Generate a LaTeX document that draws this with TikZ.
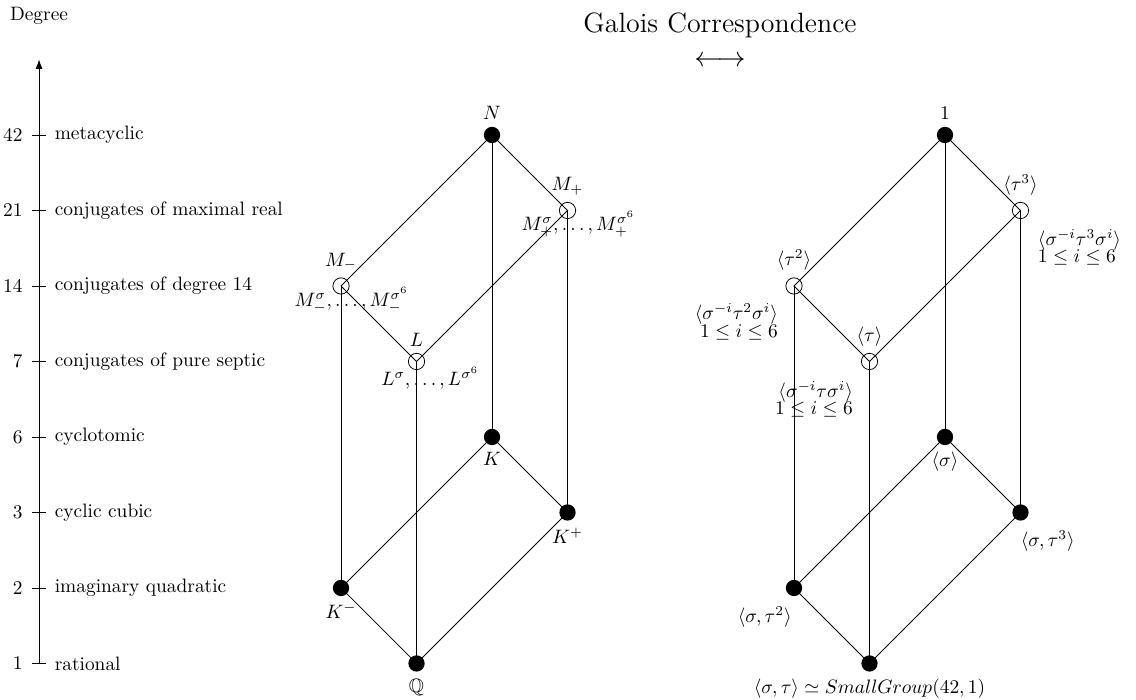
\documentclass[tikz,border=0pt]{standalone}
\usepackage{amssymb}
\usetikzlibrary{arrows.meta}

\begin{document}
\begin{tikzpicture}[x=1.368cm, y=1.368cm,
    fullpt/.style={circle, fill=black, inner sep=0pt, minimum size=8.4pt},
    openpt/.style={circle, draw=black, inner sep=0pt, minimum size=8.4pt},
    note/.style={inner sep=0pt}]
  \useasboundingbox (-0.517,-0.483) rectangle (14.53,8.788);

  % ---- the degree axis, one tick per level of the lattice ----
  \draw[-{Latex}] (0,0) -- (0,8);
  \node (deglbl) at (0,8.58) {Degree};
  \foreach \lev/\dg/\what in {0/1/rational, 1/2/imaginary quadratic,
      2/3/cyclic cubic, 3/6/cyclotomic, 4/7/conjugates of pure septic,
      5/14/conjugates of degree 14, 6/21/conjugates of maximal real,
      7/42/metacyclic}
    \draw ([xshift=-3.4pt]0,\lev) node[left, xshift=-1.6pt] {$\dg$}
       -- ([xshift=3.4pt]0,\lev) node[right, xshift=1.2pt] {\what};

  % ---- heading over both lattices ----
  \node[align=center, font=\Large, anchor=north] (title) at (9.02,8.715)
       {Galois Correspondence\\$\longleftrightarrow$};

  % ---- subfields of N, filled = normal, open = with conjugates ----
  \node[fullpt, label=below:$\mathbb{Q}$] (Q)  at (5,0) {};
  \node[fullpt, label=below:$K^-$]        (Km) at (4,1) {};
  \node[fullpt, label=below:$K^+$]        (Kp) at (7,2) {};
  \node[fullpt, label=below:$K$]          (K)  at (6,3) {};
  \node[openpt, label=above:$L$]          (L)  at (5,4) {};
  \node[openpt, label=above:$M_-$]        (Mm) at (4,5) {};
  \node[openpt, label=above:$M_+$]        (Mp) at (7,6) {};
  \node[fullpt, label=above:$N$]          (N)  at (6,7) {};

  \node[note, anchor=base] (Lc)  at ([shift={(7.1pt,-12.6pt)}]L.center)
       {$L^{\sigma},\ldots,L^{\sigma^6}$};
  \node[note, anchor=base] (Mmc) at ([shift={(5.5pt,-10.6pt)}]Mm.center)
       {$M_-^{\sigma},\ldots,M_-^{\sigma^6}$};
  \node[note, anchor=base] (Mpc) at ([shift={(5.6pt,-10.3pt)}]Mp.center)
       {$M_+^{\sigma},\ldots,M_+^{\sigma^6}$};

  \draw (N.center) -- (Mm.center) -- (L.center) -- (Mp.center) -- cycle;
  \draw (K.center) -- (Km.center) -- (Q.center) -- (Kp.center) -- cycle;
  \draw (N.center) -- (K.center);
  \draw (Mm.center) -- (Km.center);
  \draw (L.center) -- (Q.center);
  \draw (Mp.center) -- (Kp.center);

  % ---- the matching subgroups of Gal(N/Q) ----
  \node[fullpt, label={below:$\langle\sigma,\tau\rangle\simeq SmallGroup(42,1)$}] (G) at (11,0) {};
  \node[fullpt]                                     (S2)  at (10,1) {};
  \node[fullpt]                                     (S3)  at (13,2) {};
  \node[fullpt, label=below:$\langle\sigma\rangle$] (Sg)  at (12,3) {};
  \node[openpt, label=above:$\langle\tau\rangle$]   (T1)  at (11,4) {};
  \node[openpt, label=above:$\langle\tau^2\rangle$] (T2)  at (10,5) {};
  \node[openpt, label=above:$\langle\tau^3\rangle$] (T3)  at (13,6) {};
  \node[fullpt, label=above:$1$]                    (One) at (12,7) {};

  \node[note, anchor=north east] (S2l) at ([shift={(-1pt,-9.4pt)}]S2.center)
       {$\langle\sigma,\tau^2\rangle$};
  \node[note, anchor=north west] (S3l) at ([shift={(0pt,-9.2pt)}]S3.center)
       {$\langle\sigma,\tau^3\rangle$};
  \node[note, anchor=north east, align=right] (T1c) at ([shift={(-8.4pt,-10pt)}]T1.center)
       {$\langle\sigma^{-i}\tau\sigma^i\rangle$\\[-3pt]$1\le i\le 6$};
  \node[note, anchor=north east, align=right] (T2c) at ([shift={(-8.1pt,-8.9pt)}]T2.center)
       {$\langle\sigma^{-i}\tau^2\sigma^i\rangle$\\[-3pt]$1\le i\le 6$};
  \node[note, anchor=north west, align=left] (T3c) at ([shift={(8.8pt,-9.4pt)}]T3.center)
       {$\langle\sigma^{-i}\tau^3\sigma^i\rangle$\\[-3pt]$1\le i\le 6$};

  \draw (One.center) -- (T2.center) -- (T1.center) -- (T3.center) -- cycle;
  \draw (Sg.center) -- (S2.center) -- (G.center) -- (S3.center) -- cycle;
  \draw (One.center) -- (Sg.center);
  \draw (T2.center) -- (S2.center);
  \draw (T1.center) -- (G.center);
  \draw (T3.center) -- (S3.center);
\end{tikzpicture}
\end{document}
